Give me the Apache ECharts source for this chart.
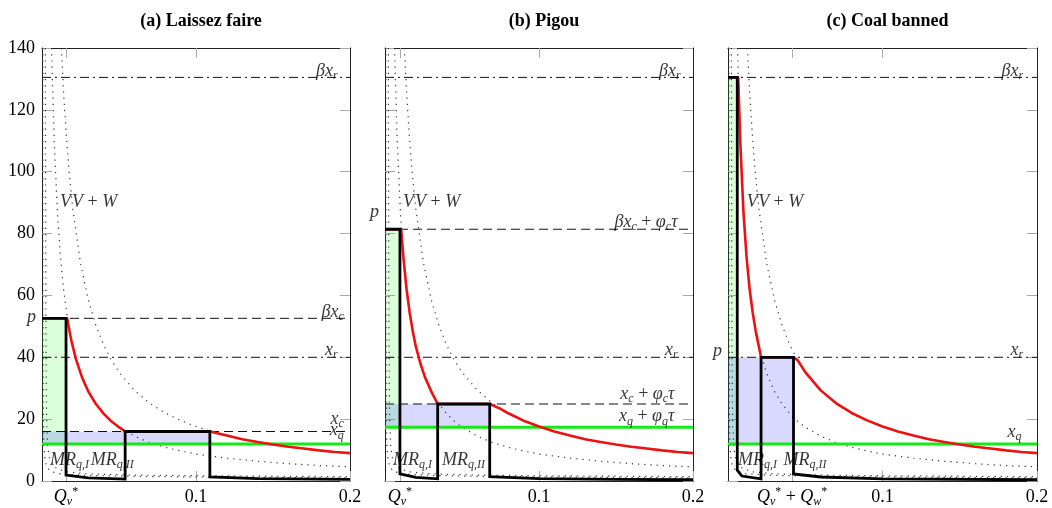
<!DOCTYPE html>
<html>
<head>
<meta charset="utf-8">
<script src="https://cdn.jsdelivr.net/npm/echarts@6/dist/echarts.min.js"></script>
<style>
html, body { margin: 0; padding: 0; background: #fff; }
#chart { width: 1052px; height: 508px; }
</style>
</head>
<body>
<div id="chart"></div>
<script>
var SERIF = '"Liberation Serif", "DejaVu Serif", serif';

// shared axes
var yTicks = [0, 20, 40, 60, 80, 100, 120, 140];
var titles = ['(a) Laissez faire', '(b) Pigou', '(c) Coal banned'];

// dotted curves, same in every panel (V, V + W and two steep ones near the axis)
var curveV = [[0.0062, 140], [0.0066, 132], [0.008, 109], [0.01, 87], [0.012, 72.5], [0.014, 62], [0.0165, 52.7], [0.02, 43.5], [0.025, 34.8], [0.03, 29], [0.035, 24.9], [0.04, 21.8], [0.045, 19.3], [0.05, 17.4], [0.06, 14.5], [0.07, 12.4], [0.08, 10.9], [0.09, 9.7], [0.1, 8.7], [0.12, 7.4], [0.14, 6.4], [0.16, 5.6], [0.18, 5.0], [0.2, 4.6]];
var curveVW = [[0.0126, 140], [0.014, 125.7], [0.016, 110], [0.018, 97.8], [0.02, 88], [0.025, 70.4], [0.03, 58.7], [0.035, 50.3], [0.04, 44], [0.045, 39.1], [0.05, 35.2], [0.06, 29.3], [0.07, 25.1], [0.08, 22], [0.09, 19.6], [0.1, 17.6], [0.11, 16], [0.12, 14.7], [0.13, 13.5], [0.14, 12.6], [0.15, 11.7], [0.16, 11], [0.17, 10.4], [0.18, 9.8], [0.19, 9.3], [0.2, 8.9]];
var curveA = [[0.0005, 140], [0.0006, 60], [0.0008, 25], [0.0012, 12], [0.0017, 8], [0.003, 4.5], [0.006, 3], [0.012, 2.3], [0.03, 1.8], [0.06, 1.5], [0.1, 1.3], [0.2, 1.0]];
var curveB = [[0.0022, 140], [0.0024, 80], [0.0026, 45], [0.0028, 28], [0.0031, 18], [0.0037, 11], [0.005, 7], [0.008, 4.5], [0.015, 3], [0.03, 2.3], [0.06, 1.9], [0.1, 1.7], [0.2, 1.4]];

// (a) laissez faire
var lfDashDot = [130.5, 40];
var lfDashed = [52.6, 16];
var lfGreenLine = 12;
var lfGreenBox = [0.0156, 12, 52.6];
var lfBlueBox = [0.109, 12, 16];
var lfTicks = [0.0156, 0.1, 0.2];
var lfTopTicks = [0.0156, 0.1];
var lfRed = [[0, 52.6], [0.0163, 52.6], [0.019, 45.5], [0.022, 39.5], [0.026, 33.5], [0.03, 29], [0.035, 24.9], [0.04, 21.8], [0.045, 19.3], [0.05, 17.4], [0.054, 16], [0.109, 16], [0.12, 14.7], [0.13, 13.5], [0.14, 12.6], [0.15, 11.8], [0.16, 11.1], [0.17, 10.5], [0.18, 9.9], [0.19, 9.4], [0.2, 9.0]];
var lfMR = [[0, 52.6], [0.0156, 52.6], [0.0156, 1.9], [0.03, 1.0], [0.054, 0.6], [0.054, 16], [0.109, 16], [0.109, 1.3], [0.14, 0.8], [0.2, 0.5]];
var lfLabels = [[0.192, 132.5, 'bxr', 'r'], [0.196, 54.7, 'bxc', 'r'], [0.192, 42.3, 'xr', 'r'], [0.196, 20, 'xc', 'r'], [0.196, 16.3, 'xq', 'r'], [0, 53, 'p', 'o'], [0.0117, 90, 'v', 'l'], [0.0195, 90, 'vw', 'l'], [0.0052, 6.8, 'mr1', 'l'], [0.0316, 6.8, 'mr2', 'l']];

// (b) Pigou
var pgDashDot = [130.5, 40];
var pgDashed = [81.4, 24.9];
var pgGreenLine = 17.4;
var pgGreenBox = [0.0097, 17.4, 81.4];
var pgBlueBox = [0.068, 17.4, 24.9];
var pgTicks = [0.0097, 0.1, 0.2];
var pgTopTicks = [0.0097, 0.1];
var pgRed = [[0, 81.4], [0.0105, 81.4], [0.012, 72], [0.014, 62], [0.016, 54.5], [0.018, 48.5], [0.02, 43.5], [0.023, 38], [0.026, 33.5], [0.03, 29], [0.0342, 24.9], [0.068, 24.9], [0.075, 23.3], [0.08, 21.9], [0.09, 19.5], [0.1, 17.6], [0.11, 16], [0.12, 14.7], [0.13, 13.5], [0.14, 12.6], [0.15, 11.8], [0.16, 11.1], [0.17, 10.5], [0.18, 9.9], [0.19, 9.4], [0.2, 9.0]];
var pgMR = [[0, 81.4], [0.0097, 81.4], [0.0097, 2.3], [0.02, 1.2], [0.0342, 0.7], [0.0342, 24.9], [0.068, 24.9], [0.068, 1.4], [0.1, 0.8], [0.15, 0.5], [0.2, 0.4]];
var pgLabels = [[0.192, 132.5, 'bxr', 'r'], [0.19, 83.8, 'bxct', 'r'], [0.19, 42.3, 'xr', 'r'], [0.188, 28.1, 'xct', 'r'], [0.188, 20.8, 'xqt', 'r'], [0, 87, 'p', 'o'], [0.0117, 90, 'v', 'l'], [0.0195, 90, 'vw', 'l'], [0.0052, 6.8, 'mr1', 'l'], [0.037, 6.8, 'mr2', 'l']];

// (c) coal banned
var cbDashDot = [130.5, 40];
var cbDashed = [];
var cbGreenLine = 12;
var cbGreenBox = [0.006, 12, 130.5];
var cbBlueBox = [0.0424, 12, 40];
var cbTicks = [0.0415, 0.1, 0.2];
var cbTopTicks = [0.0415, 0.1];
var cbRed = [[0, 130.5], [0.0066, 130.5], [0.008, 109], [0.01, 87], [0.012, 72.5], [0.014, 62], [0.016, 54.4], [0.018, 48.3], [0.0214, 40], [0.0424, 40], [0.045, 39.1], [0.05, 35.2], [0.06, 29.3], [0.07, 25.1], [0.08, 22], [0.09, 19.6], [0.1, 17.6], [0.11, 16], [0.12, 14.7], [0.13, 13.5], [0.14, 12.6], [0.15, 11.8], [0.16, 11.1], [0.17, 10.5], [0.18, 9.9], [0.19, 9.4], [0.2, 9.0]];
var cbMR = [[0, 130.5], [0.006, 130.5], [0.006, 3.5], [0.009, 1.6], [0.0214, 0.7], [0.0214, 40], [0.0424, 40], [0.0424, 2.3], [0.06, 1.3], [0.1, 0.7], [0.2, 0.4]];
var cbLabels = [[0.191, 132.5, 'bxr', 'r'], [0.191, 42.3, 'xr', 'r'], [0.19, 15.8, 'xq', 'r'], [0, 42, 'p', 'o'], [0.0121, 90, 'v', 'l'], [0.0195, 90, 'vw', 'l'], [0.0065, 6.8, 'mr1', 'l'], [0.036, 6.8, 'mr2', 'l']];

var gridLefts = [42, 385, 728];
var gridRights = [702, 359, 15];

var RICH = {
    i: { fontFamily: SERIF, fontStyle: 'italic', fontSize: 18, lineHeight: 22, verticalAlign: 'middle', color: '#000' },
    n: { fontFamily: SERIF, fontSize: 18, lineHeight: 22, verticalAlign: 'middle', color: '#000' },
    s: { fontFamily: SERIF, fontStyle: 'italic', fontSize: 12, lineHeight: 12, verticalAlign: 'bottom', color: '#000' },
    u: { fontFamily: SERIF, fontSize: 12, lineHeight: 12, verticalAlign: 'top', color: '#000' }
};

var TXT = {
    bxr: '{i|βx}{s|r}',
    bxc: '{i|βx}{s|c}',
    xr: '{i|x}{s|r}',
    xc: '{i|x}{s|c}',
    xq: '{i|x}{s|q}',
    bxct: '{i|βx}{s|c}{n| + }{i|φ}{s|c}{i|τ}',
    xct: '{i|x}{s|c}{n| + }{i|φ}{s|c}{i|τ}',
    xqt: '{i|x}{s|q}{n| + }{i|φ}{s|q}{i|τ}',
    p: '{i|p}',
    v: '{i|V}',
    vw: '{i|V}{n| + }{i|W}',
    mr1: '{i|MR}{s|q,I}',
    mr2: '{i|MR}{s|q,II}'
};
var Q_LABELS = ['{i|Q}{s|v}{u|*}', '{i|Q}{s|v}{u|*}', '{i|Q}{s|v}{u|*}{n| + }{i|Q}{s|w}{u|*}'];

/*
    one panel: axes + series
 */
function lineSeries(i, data, style, z) {
    return {
        type: 'line', xAxisIndex: 2 * i, yAxisIndex: 2 * i,
        data: data, symbol: 'none', silent: true, z: z,
        lineStyle: style
    };
}

function boxSeries(i, box, color) {
    var s = lineSeries(i, [[0, box[2]], [box[0], box[2]]], { width: 0, opacity: 0 }, 1);
    s.areaStyle = { color: color, origin: box[1], opacity: 1 };
    return s;
}

function labelSeries(i, list) {
    return {
        type: 'scatter', xAxisIndex: 2 * i, yAxisIndex: 2 * i,
        symbolSize: 0, silent: true, clip: false, z: 10,
        label: { show: true, position: 'inside', rich: RICH },
        data: list.map(function(l) {
            var lab = {
                formatter: function() { return TXT[l[2]]; },
                verticalAlign: 'middle'
            };
            if (l[3] === 'r') lab.align = 'right';
            else if (l[3] === 'l') lab.align = 'left';
            else { lab.align = 'right'; lab.offset = [-6, 0]; }
            return { value: [l[0], l[1]], label: lab };
        })
    };
}

var xAxes = [], yAxes = [], grids = [], series = [], titleList = [];

function addPanel(i, p) {
    grids.push({ left: gridLefts[i], right: gridRights[i], top: 48, bottom: 27, containLabel: false, outerBoundsMode: 'none' });
    titleList.push({
        text: titles[i], left: gridLefts[i] + (1052 - gridLefts[i] - gridRights[i]) / 2, top: 7, textAlign: 'center',
        textStyle: { fontFamily: SERIF, fontWeight: 'bold', fontSize: 18, color: '#000' }
    });
    var axisLine = { show: true, onZero: false, lineStyle: { color: '#222', width: 1 } };
    var tick = { show: true, inside: true, length: 10, lineStyle: { color: '#aaa', width: 1 } };
    xAxes.push({
        gridIndex: i, type: 'value', min: 0, max: 0.2, position: 'bottom',
        splitLine: { show: false }, axisLine: axisLine,
        axisTick: Object.assign({ customValues: p.ticks }, tick),
        axisLabel: {
            show: true, customValues: p.ticks, margin: 5, color: '#000',
            fontFamily: SERIF, fontSize: 18, rich: RICH,
            formatter: function(v) {
                if (Math.abs(v - p.ticks[0]) < 1e-6) return Q_LABELS[i];
                if (Math.abs(v - 0.1) < 1e-6) return '{n|0.1}';
                if (Math.abs(v - 0.2) < 1e-6) return '{n|0.2}';
                return '';
            }
        }
    });
    xAxes.push({
        gridIndex: i, type: 'value', min: 0, max: 0.2, position: 'top',
        splitLine: { show: false }, axisLine: axisLine,
        axisTick: Object.assign({ customValues: p.topTicks }, tick),
        axisLabel: { show: false }
    });
    yAxes.push({
        gridIndex: i, type: 'value', min: 0, max: 140, interval: 20, position: 'left',
        splitLine: { show: false }, axisLine: axisLine, axisTick: tick,
        axisLabel: { show: i === 0, margin: 7, color: '#000', fontFamily: SERIF, fontSize: 18 }
    });
    yAxes.push({
        gridIndex: i, type: 'value', min: 0, max: 140, interval: 20, position: 'right',
        splitLine: { show: false }, axisLine: axisLine, axisTick: tick,
        axisLabel: { show: false }
    });

    // shaded surplus boxes
    series.push(boxSeries(i, p.greenBox, 'rgba(0,255,0,0.14)'));
    series.push(boxSeries(i, p.blueBox, 'rgba(0,0,255,0.15)'));

    var dotted = { type: [1.2, 5], color: '#333', width: 1.2 };
    [curveA, curveB, curveV, curveVW].forEach(function(c) {
        series.push(lineSeries(i, c, dotted, 2));
    });
    p.dashDot.forEach(function(y) {
        series.push(lineSeries(i, [[0, y], [0.2, y]], { type: [9, 4, 2, 4], color: '#111', width: 1 }, 3));
    });
    p.dashed.forEach(function(y) {
        series.push(lineSeries(i, [[0, y], [0.2, y]], { type: [9, 5], color: '#111', width: 1 }, 3));
    });
    series.push(lineSeries(i, [[0, p.green], [0.2, p.green]], { color: '#14ea14', width: 3 }, 4));
    series.push(lineSeries(i, p.red, { color: '#ee1111', width: 2.6 }, 5));
    series.push(lineSeries(i, p.mr, { color: '#000', width: 2.8, join: 'miter' }, 6));
    series.push(labelSeries(i, p.labels));
}

addPanel(0, { ticks: lfTicks, topTicks: lfTopTicks, greenBox: lfGreenBox, blueBox: lfBlueBox, dashDot: lfDashDot, dashed: lfDashed, green: lfGreenLine, red: lfRed, mr: lfMR, labels: lfLabels });
addPanel(1, { ticks: pgTicks, topTicks: pgTopTicks, greenBox: pgGreenBox, blueBox: pgBlueBox, dashDot: pgDashDot, dashed: pgDashed, green: pgGreenLine, red: pgRed, mr: pgMR, labels: pgLabels });
addPanel(2, { ticks: cbTicks, topTicks: cbTopTicks, greenBox: cbGreenBox, blueBox: cbBlueBox, dashDot: cbDashDot, dashed: cbDashed, green: cbGreenLine, red: cbRed, mr: cbMR, labels: cbLabels });

var chart = echarts.init(document.getElementById('chart'), null, { renderer: 'canvas' });
chart.setOption({
    animation: false,
    backgroundColor: '#fff',
    title: titleList,
    grid: grids,
    xAxis: xAxes,
    yAxis: yAxes,
    series: series
});
</script>
</body>
</html>
